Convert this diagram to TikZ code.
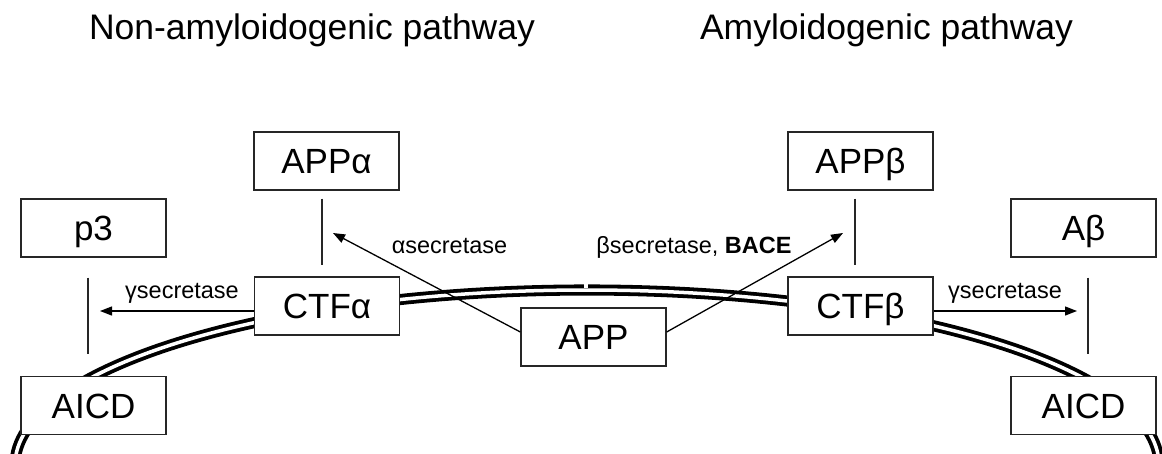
\documentclass[tikz,border=0pt]{standalone}
\usepackage{fontspec}
\setmainfont{Liberation Sans}
\usetikzlibrary{arrows.meta,calc}
\begin{document}
\begin{tikzpicture}[x=1pt,y=-1pt,
  box/.style={draw=black!85, line width=1.3pt, fill=white,
    minimum width=145pt, minimum height=58pt, inner sep=0pt,
    text height=25pt, text depth=0pt, font=\fontsize{35}{40}\selectfont},
  title/.style={anchor=base, font=\fontsize{35.5}{40}\selectfont},
  enz/.style={anchor=base, font=\fontsize{23.5}{28}\selectfont},
  cut/.style={line width=1.3pt, draw=black!85},
  arr/.style={line width=1.3pt, -{Triangle[length=12pt,width=9pt]}},
  membrane/.style={line width=3.8pt, double=white, double distance=3.5pt}]
\useasboundingbox (0,0) rectangle (1162,453);

% cell membrane
\begin{scope}
  \clip (0,0) rectangle (1162,453);
  \draw[membrane] (587,465) ellipse [x radius=572pt, y radius=175pt];
  \fill[white] (584,280) rectangle (588,288);
\end{scope}

% headings
\node[title] (tNA) at (312,39) {Non-amyloidogenic pathway};
\node[title] (tA)  at (886.5,39) {Amyloidogenic pathway};

% fragments
\node[box] (p3)    at (93.5,228)   {p3};
\node[box] (APPa)  at (326.5,161)  {APPα};
\node[box] (CTFa)  at (327,306)    {CTFα};
\node[box] (AICDL) at (93.5,405.5) {AICD};
\node[box] (APP)   at (593.5,337)  {APP};
\node[box] (APPb)  at (860.5,161)  {APPβ};
\node[box] (CTFb)  at (860.5,306)  {CTFβ};
\node[box] (Ab)    at (1083.5,228) {Aβ};
\node[box] (AICDR) at (1083.5,405.5) {AICD};

% cleavage marks
\draw[cut] ($(APPa.south)+(-4.5,8)$) -- ($(CTFa.north)+(-5,-11)$);
\draw[cut] ($(APPb.south)+(-5.5,8)$) -- ($(CTFb.north)+(-5.5,-11)$);
\draw[cut] ($(p3.south)+(-5.5,20)$) -- ($(AICDL.north)+(-5.5,-22)$);
\draw[cut] ($(Ab.south)+(4.5,20)$) -- ($(AICDR.north)+(4.5,-22)$);

% secretase steps
\coordinate (gL) at (100,311);
\coordinate (gR) at (1077,311);
\coordinate (aT) at (333,233);
\coordinate (bT) at (843,233);
\draw[arr] ($(CTFa.west)+(0,5)$) -- (gL);
\draw[arr] ($(CTFb.east)+(0,5)$) -- (gR);
\draw[arr] ($(APP.west)+(0,-5)$) -- (aT);
\draw[arr] ($(APP.east)+(0,-5)$) -- (bT);

\node[enz] (lgL) at (182,298)  {γsecretase};
\node[enz] (lgR) at (1005,298) {γsecretase};
\node[enz] (la)  at (449.5,253) {αsecretase};
\node[enz] (lb)  at (694,253)  {βsecretase, \textbf{BACE}};
\end{tikzpicture}
\end{document}
